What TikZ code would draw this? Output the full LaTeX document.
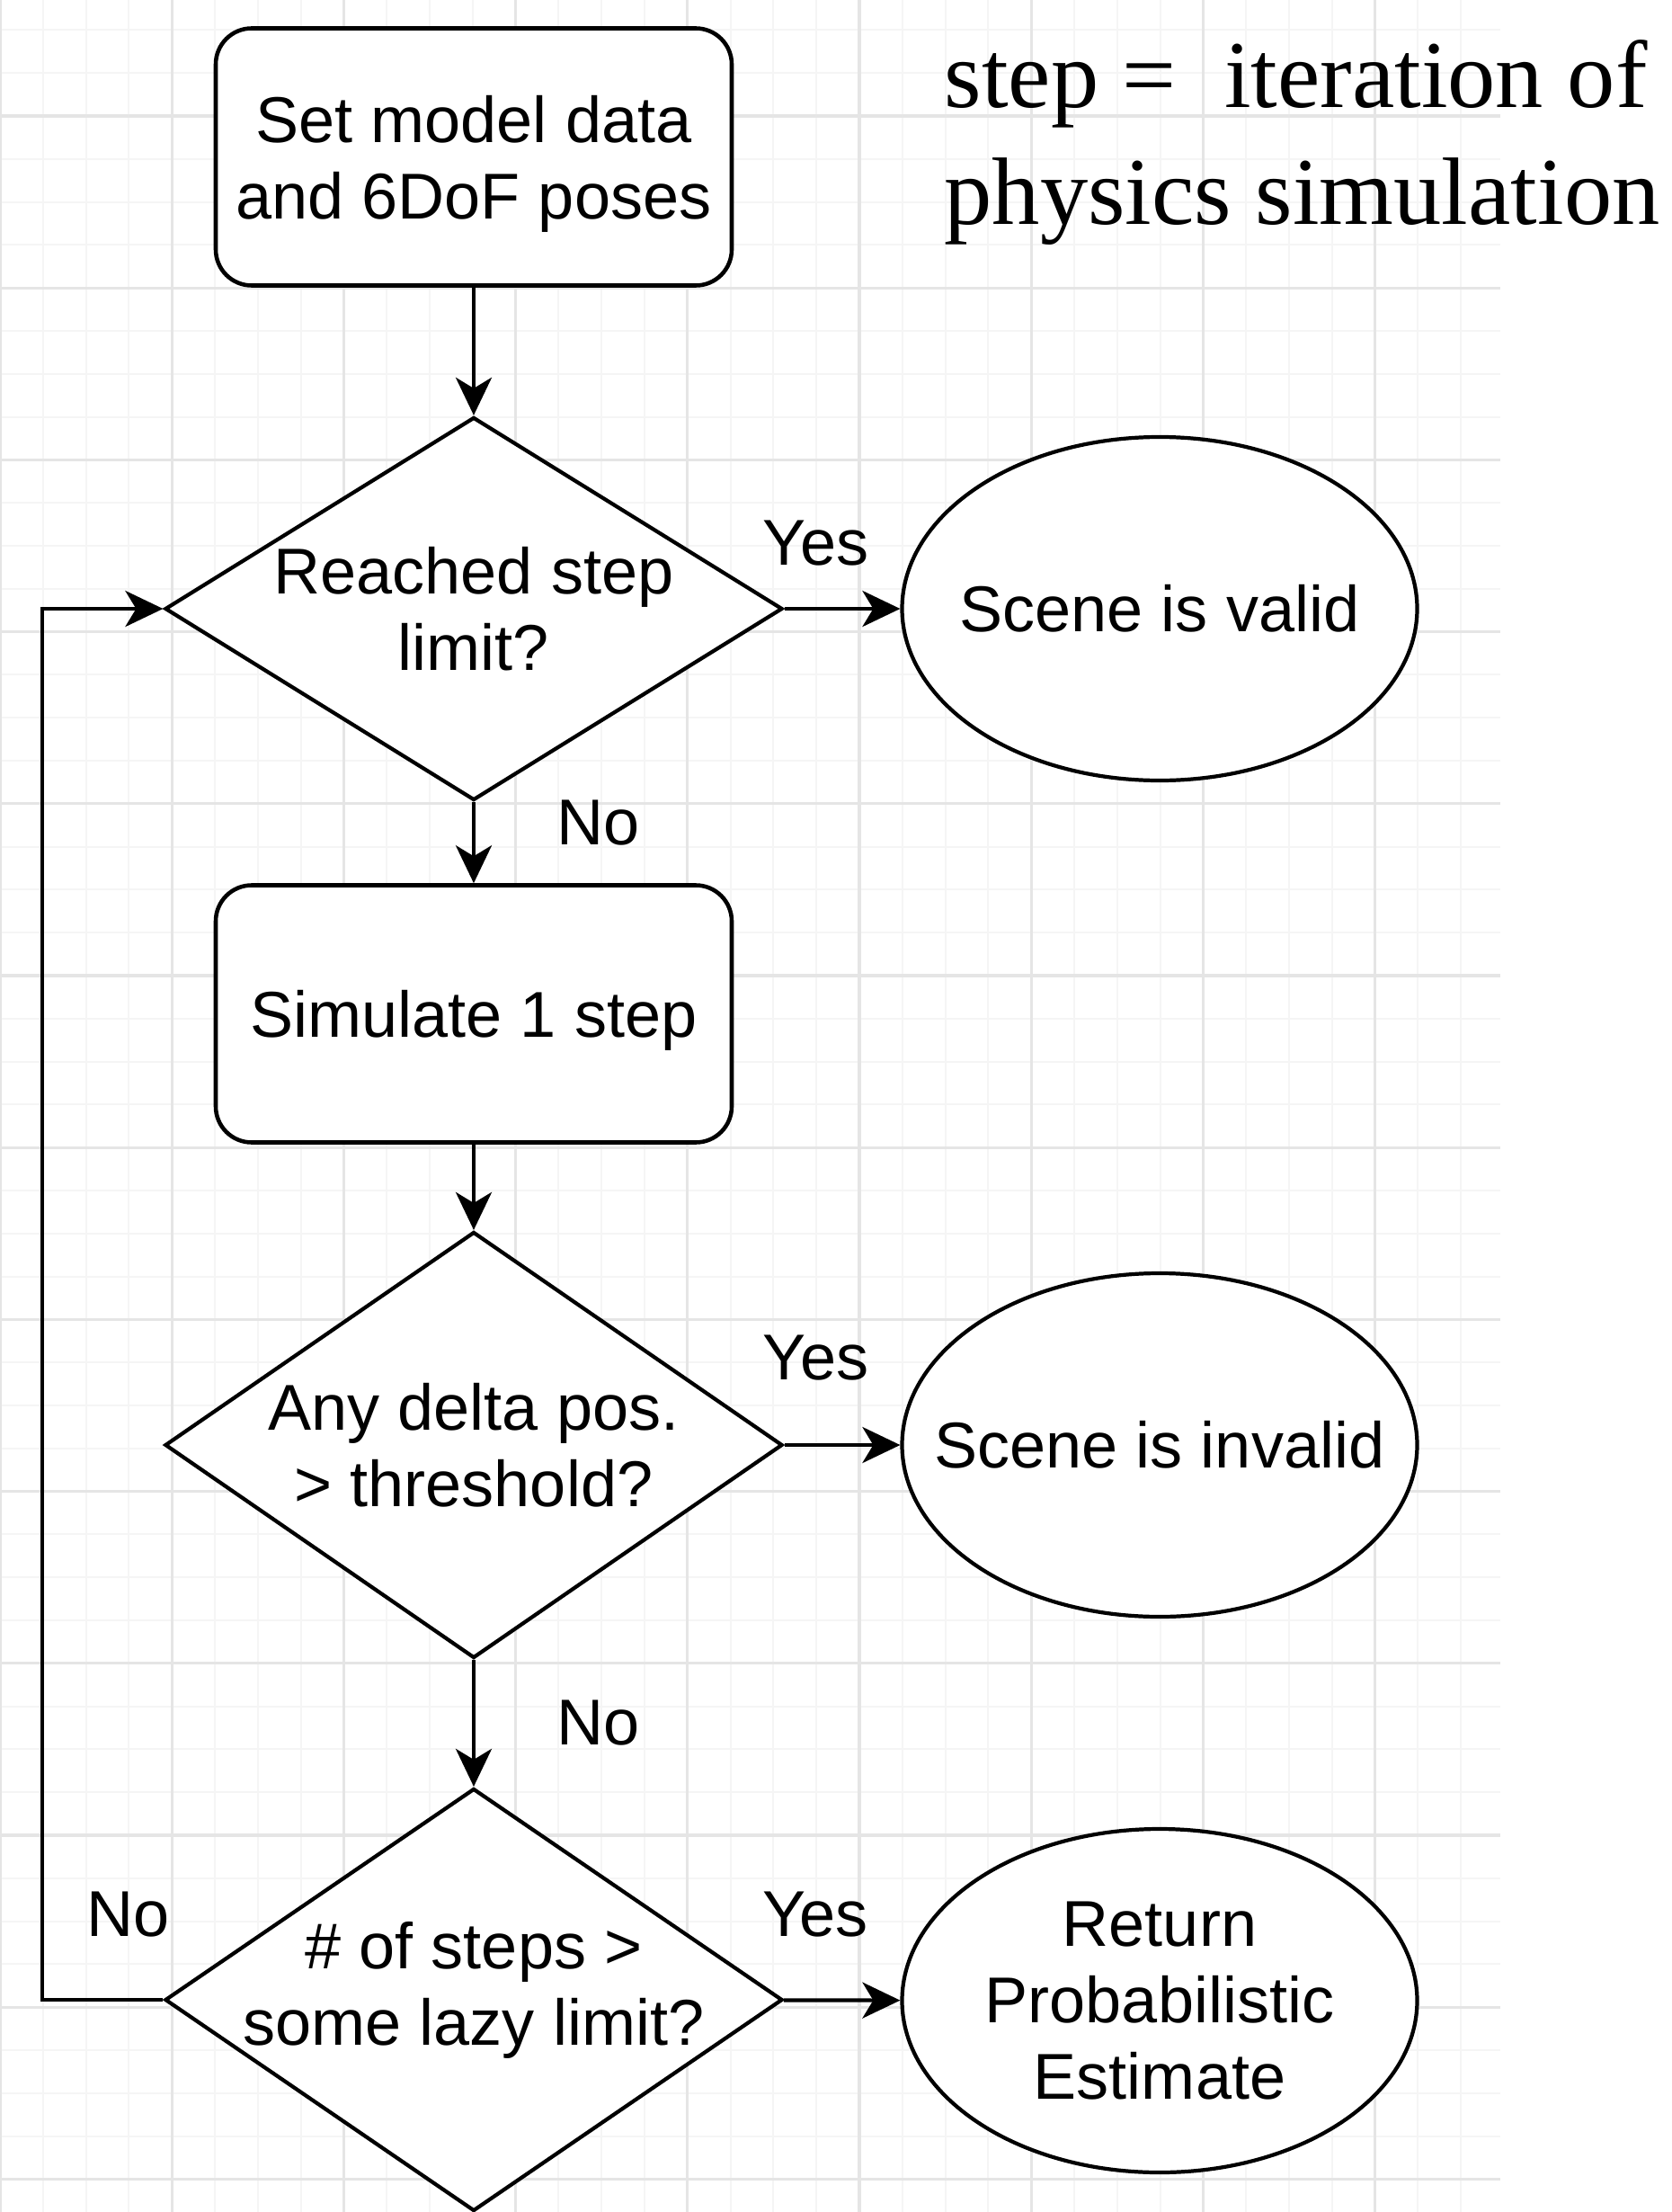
\documentclass[tikz,border=0pt]{standalone}
\usepackage{fontspec}
\setmainfont{Liberation Sans}
\newfontfamily\notefont{Liberation Serif}
\usepackage{tikz}
\usetikzlibrary{shapes.geometric}
\usetikzlibrary{arrows.meta}

\newcommand{\flowfont}{\fontsize{20.5}{24.2}\selectfont}

\begin{document}
\begin{tikzpicture}[
    box node/.style={rectangle,draw,fill=white,line width=1.3pt,rounded corners=0.4cm,
      minimum width=5.74cm,minimum height=2.86cm,text depth=0pt,align=center,font=\flowfont},
    test node/.style={diamond,draw,fill=white,line width=1.2pt,minimum width=6.87cm,
      inner xsep=-2cm,inner ysep=-0.6cm,align=center,font=\flowfont},
    end node/.style={ellipse,draw,fill=white,line width=1.2pt,minimum width=5.73cm,
      minimum height=3.82cm,inner xsep=-1cm,inner ysep=0pt,align=center,font=\flowfont},
    flow line/.style={line width=1.2pt,-{Stealth[length=0.42cm,width=0.4cm,inset=0.12cm]}},
    answer/.style={font=\flowfont,inner sep=0pt},
    note/.style={font=\notefont\fontsize{30.3}{37}\selectfont,align=left,inner sep=0pt},
    ]
  \def\X{5.27}
  \def\E{12.90}

  \fill[white] (0,0) rectangle (18.6,-24.6);
  \useasboundingbox (0,0) rectangle (18.6,-24.6);

  % grid paper
  \begin{scope}[shift={(0,-1.29)}]
    \draw[gray!8,line width=0.6pt,step=0.478] (0,1.29) grid (16.69,-23.31);
    \draw[gray!20,line width=0.9pt,step=1.912] (0,1.29) grid (16.69,-23.31);
  \end{scope}

  \node[box node] (1) at (\X,-1.745) {Set model data\\and 6DoF poses};
  \node[test node,minimum height=4.26cm] (2) at (\X,-6.77) {Reached step\\limit?};
  \node[end node] (3) at (\E,-6.77) {Scene is valid};
  \node[box node] (4) at (\X,-11.275) {Simulate 1 step};
  \node[test node,minimum height=4.74cm] (5) at (\X,-16.07) {Any delta pos.\\> threshold?};
  \node[end node] (6) at (\E,-16.07) {Scene is invalid};
  \node[test node,minimum height=4.7cm,text depth=0.37cm] (7) at (\X,-22.24) {\# of steps >\\some lazy limit?};
  \node[end node] (8) at (\E,-22.25) {Return\\Probabilistic\\Estimate};
  \coordinate (loop) at (0.47,-22.24);

  \node[note,anchor=north west] (note) at (10.50,-0.44) {step =\ \ iteration of\\physics simulation};

  \draw[flow line] (1) -- (2);
  \draw[flow line] (2) -- node[answer,pos=0.27,yshift=0.73cm] {Yes} (3);
  \draw[flow line] (2) -- node[answer,pos=0.25,xshift=1.39cm] {No} (4);
  \draw[flow line] (4) -- (5);
  \draw[flow line] (5) -- node[answer,pos=0.27,yshift=0.97cm] {Yes} (6);
  \draw[flow line] (5) -- node[answer,pos=0.5,xshift=1.39cm] {No} (7);
  \draw[flow line] (7) -- node[answer,pos=0.27,yshift=0.95cm] {Yes} (8);
  \draw[flow line] (7.west) -- node[answer,pos=0.29,yshift=0.95cm] {No} (loop) |- (2.west);
\end{tikzpicture}
\end{document}
